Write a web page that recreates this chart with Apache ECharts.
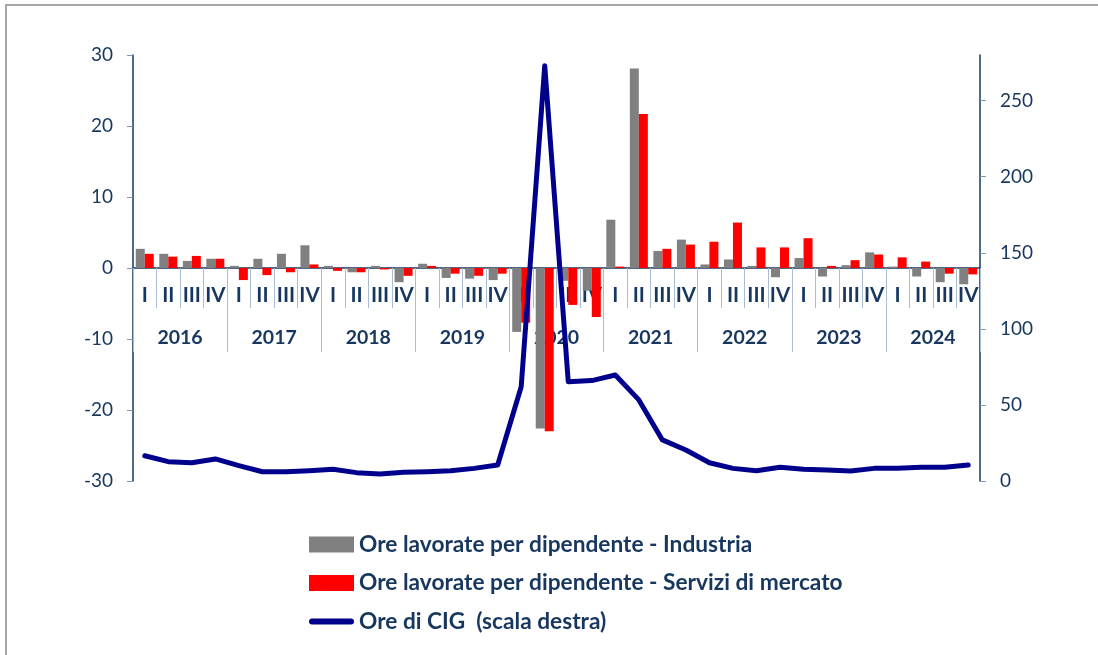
<!DOCTYPE html>
<html><head><meta charset="utf-8">
<script src="https://cdn.jsdelivr.net/npm/echarts@6/dist/echarts.min.js"></script>
<style>html,body{margin:0;padding:0;background:#fff}#c{width:1098px;height:655px}</style>
</head><body><div id="c"></div>
<script>
const years = ['2016','2017','2018','2019','2020','2021','2022','2023','2024'];
const quarterNames = ['I','II','III','IV'];
const categories = years.flatMap(y => quarterNames.map(q => y + '-' + q));

const industria = [
  2.7, 2.0, 1.0, 1.3,
  0.3, 1.3, 2.0, 3.2,
  0.3, -0.6, 0.3, -2.0,
  0.6, -1.4, -1.5, -1.7,
  -9.0, -22.6, -1.8, -3.2,
  6.8, 28.1, 2.4, 4.0,
  0.5, 1.2, 0.3, -1.3,
  1.4, -1.2, 0.4, 2.2,
  0.2, -1.2, -2.0, -2.3
];
const servizi = [
  2.0, 1.6, 1.7, 1.3,
  -1.7, -1.0, -0.6, 0.5,
  -0.4, -0.6, -0.2, -1.1,
  0.3, -0.8, -1.1, -0.8,
  -7.7, -23.0, -5.2, -6.9,
  0.2, 21.7, 2.7, 3.3,
  3.7, 6.4, 2.9, 2.9,
  4.2, 0.3, 1.1, 1.9,
  1.5, 0.9, -0.8, -0.9
];
const cig = [
  16.6, 12.7, 12.0, 14.5,
  10.1, 6.1, 6.1, 6.8,
  7.7, 5.5, 4.6, 5.7,
  6.1, 6.8, 8.3, 10.5,
  62, 273, 65.3, 66,
  69.7, 53.3, 27, 20.4,
  12, 8.3, 6.8, 9,
  7.7, 7.2, 6.6, 8.3,
  8.3, 9, 9, 10.5
];
const leftTicks = { min: -30, max: 30, interval: 10 };
const rightTickValues = [0, 50, 100, 150, 200, 250];
const rightMax = 280;

const navy = '#17375E';
const sepColor = '#A9BCD2';
const font = 'Lato';

// plot geometry
const gTop = 55, gBottom = 174, gLeft = 133, gRight = 118, chartH = 655;
const plotH = chartH - gTop - gBottom;
// pixel of the left-axis zero line
const zeroY = gTop + plotH * (leftTicks.max / (leftTicks.max - leftTicks.min));

const chart = echarts.init(document.getElementById('c'), null, { renderer: 'canvas' });
chart.setOption({
  animation: false,
  textStyle: { fontFamily: font },
  graphic: [{
    type: 'rect', z: -10, silent: true,
    shape: { x: 6, y: 5, width: 1300, height: 900 },
    style: { fill: 'none', stroke: '#A6A6A6', lineWidth: 2 }
  }],
  grid: [
    { left: gLeft, right: gRight, top: gTop, bottom: gBottom, containLabel: false },
    { left: gLeft, right: gRight, top: gTop, bottom: chartH - zeroY, containLabel: false }
  ],
  legend: {
    orient: 'vertical', left: 309, top: 533, padding: 0,
    itemWidth: 45, itemHeight: 16, itemGap: 15.5,
    textStyle: { fontFamily: font, fontWeight: 'bold', fontSize: 22.7, color: navy, lineHeight: 23 },
    data: [
      { name: 'Ore lavorate per dipendente - Industria', icon: 'rect' },
      { name: 'Ore lavorate per dipendente - Servizi di mercato', icon: 'rect' },
      { name: 'Ore di CIG  (scala destra)', icon: 'path://M3,0 L42,0 A3,3 0 0 1 42,6 L3,6 A3,3 0 0 1 3,0 Z' }
    ]
  },
  xAxis: [
    {
      gridIndex: 0, type: 'category', data: categories, position: 'bottom',
      axisLine: { onZero: true, lineStyle: { color: navy, width: 1.5 } },
      axisTick: { show: false },
      axisLabel: { show: false },
      splitLine: { show: false }
    },
    {
      gridIndex: 1, type: 'category', data: categories, position: 'bottom',
      axisLine: { show: false },
      axisTick: { show: true, interval: 0, length: 40, lineStyle: { color: sepColor, width: 1 } },
      axisLabel: {
        interval: 0, margin: 17, fontFamily: font, fontWeight: 'bold', fontSize: 20.5, color: navy,
        formatter: v => v.split('-')[1]
      },
      splitLine: { show: false }
    },
    {
      gridIndex: 1, type: 'category', data: years, position: 'bottom',
      axisLine: { show: false },
      axisTick: { show: true, interval: 0, length: 84, lineStyle: { color: sepColor, width: 1 } },
      axisLabel: { interval: 0, margin: 60, fontFamily: font, fontWeight: 'bold', fontSize: 19.5, color: navy },
      splitLine: { show: false }
    }
  ],
  yAxis: [
    {
      gridIndex: 0, type: 'value', position: 'left', min: leftTicks.min, max: leftTicks.max, interval: leftTicks.interval,
      axisLine: { show: true, onZero: false, lineStyle: { color: navy, width: 1.5 } },
      axisTick: { show: true, length: 6, lineStyle: { color: '#8096B0' } },
      axisLabel: { margin: 20, fontFamily: font, fontSize: 19, color: navy },
      splitLine: { show: false }
    },
    {
      gridIndex: 0, type: 'value', position: 'right', min: 0, max: rightMax,
      axisLine: { show: true, onZero: false, lineStyle: { color: navy, width: 1.5 } },
      axisTick: { show: true, length: 6, lineStyle: { color: '#8096B0' }, customValues: rightTickValues },
      axisLabel: { margin: 20, fontFamily: font, fontSize: 19, color: navy, customValues: rightTickValues },
      splitLine: { show: false }
    },
    {
      gridIndex: 1, type: 'value', min: 0, max: 1, show: false
    }
  ],
  series: [
    {
      name: 'Ore lavorate per dipendente - Industria', type: 'bar', xAxisIndex: 0, yAxisIndex: 0,
      data: industria, barWidth: 9, barGap: '0%', itemStyle: { color: '#808080' }, z: 2
    },
    {
      name: 'Ore lavorate per dipendente - Servizi di mercato', type: 'bar', xAxisIndex: 0, yAxisIndex: 0,
      data: servizi, barWidth: 9, barGap: '0%', itemStyle: { color: '#FF0000' }, z: 2
    },
    {
      name: 'Ore di CIG  (scala destra)', type: 'line', xAxisIndex: 0, yAxisIndex: 1,
      data: cig, showSymbol: false, symbol: 'none',
      lineStyle: { color: '#00008C', width: 5, cap: 'round', join: 'round' },
      itemStyle: { color: '#00008C' }, z: 5
    }
  ]
});
</script></body></html>
